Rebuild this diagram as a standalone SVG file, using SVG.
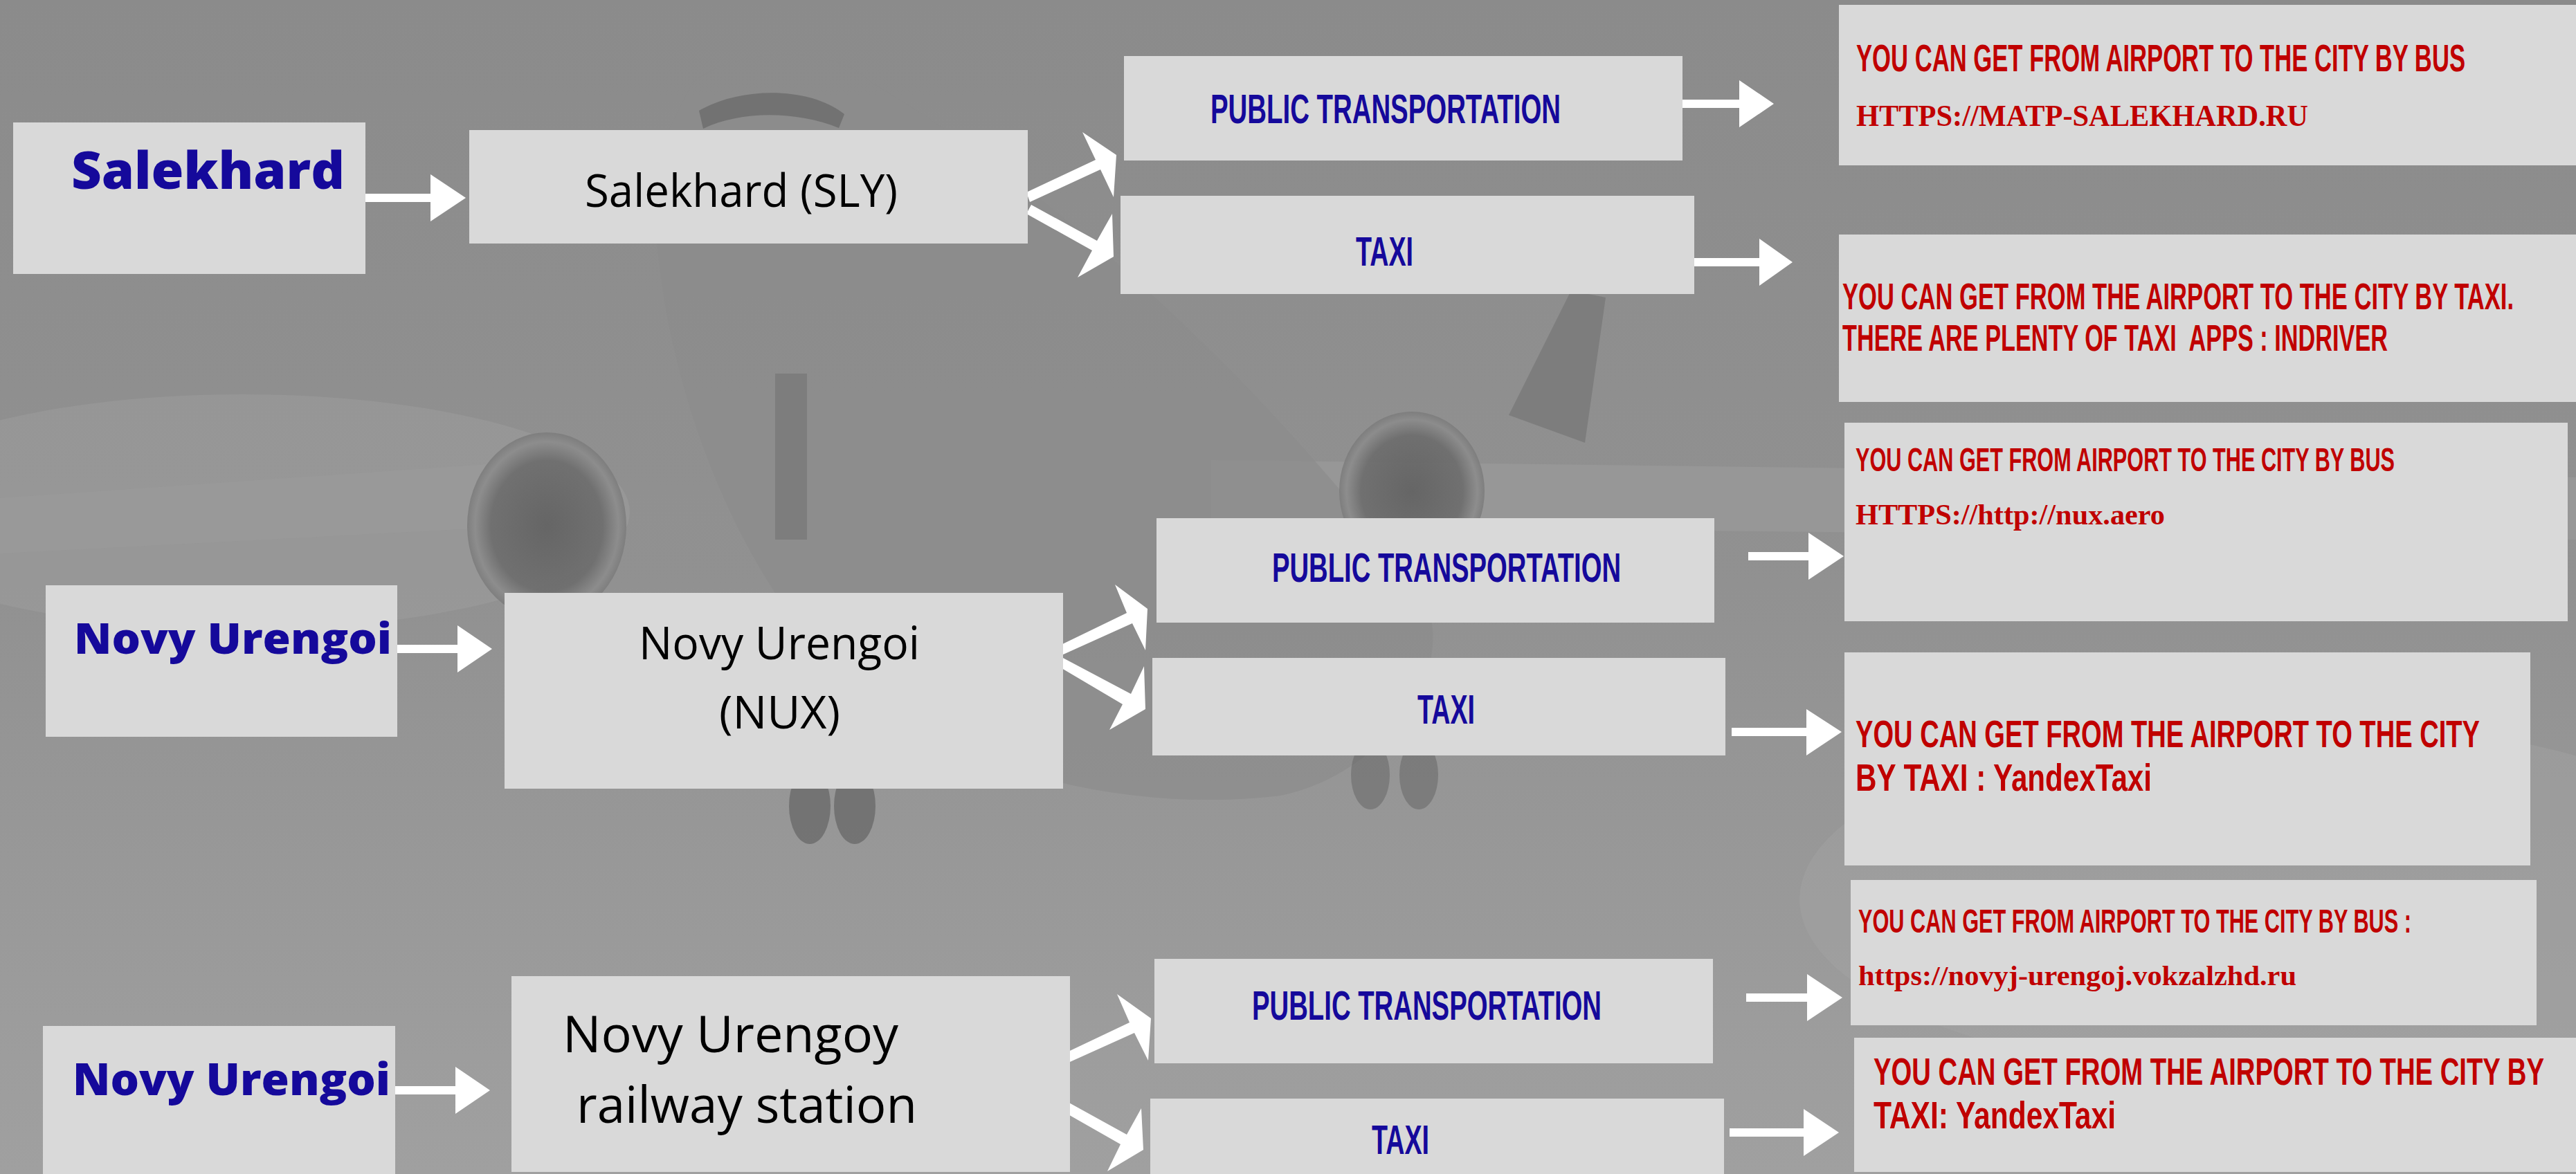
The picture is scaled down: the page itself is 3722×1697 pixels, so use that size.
<svg xmlns="http://www.w3.org/2000/svg" width="3722" height="1697" viewBox="0 0 3722 1697">
<defs>
<linearGradient id="bg" x1="0" y1="0" x2="0" y2="1">
<stop offset="0" stop-color="#8b8b8b"/>
<stop offset="0.5" stop-color="#919191"/>
<stop offset="1" stop-color="#a0a0a0"/>
</linearGradient>
<radialGradient id="eng" cx="0.5" cy="0.5" r="0.5">
<stop offset="0" stop-color="#606060"/>
<stop offset="0.7" stop-color="#6c6c6c"/>
<stop offset="0.9" stop-color="#8c8c8c"/>
<stop offset="1" stop-color="#7c7c7c"/>
</radialGradient>
<style>
.box{fill:#d9d9d9}
.city{font-family:"Open Sans","Noto Sans","DejaVu Sans",sans-serif;font-weight:800;fill:#15099b}
.apt{font-family:"Open Sans","Noto Sans","DejaVu Sans",sans-serif;fill:#000}
.opt{font-family:"Liberation Sans",Arial,sans-serif;font-weight:bold;fill:#15099b}
.info{font-family:"Liberation Sans",Arial,sans-serif;font-weight:bold;fill:#c00000}
.url{font-family:"Liberation Serif","Times New Roman",serif;font-weight:bold;fill:#c00000}
.arrow{fill:#ffffff}
</style>
</defs>

<g id="background">
<rect x="0" y="0" width="3722" height="1697" fill="url(#bg)"/>
<ellipse cx="350" cy="740" rx="560" ry="170" fill="#9e9e9e" opacity="0.5"/>
<ellipse cx="3300" cy="1300" rx="700" ry="260" fill="#a4a4a4" opacity="0.4"/>
<polygon points="0,720 720,670 760,760 0,800" fill="#9a9a9a" opacity="0.8"/>
<polygon points="1750,665 3722,690 3722,780 1750,760" fill="#999999" opacity="0.8"/>
<polygon points="2180,600 2270,420 2320,430 2290,640" fill="#727272" opacity="0.6"/>
<path d="M1000,120 C1060,70 1200,60 1260,120 C1500,260 1800,520 2050,850 C2120,960 2000,1120 1850,1150 C1600,1180 1300,1100 1150,900 C1000,700 930,400 950,220 Z" fill="#8c8c8c" opacity="0.7"/>
<path d="M1010,160 C1070,125 1170,125 1220,165 L1212,185 C1150,160 1070,160 1016,186 Z" fill="#666666" opacity="0.7"/>
<ellipse cx="790" cy="760" rx="115" ry="135" fill="url(#eng)" opacity="0.9"/>
<ellipse cx="2040" cy="710" rx="105" ry="115" fill="url(#eng)" opacity="0.9"/>
<rect x="1120" y="540" width="46" height="240" fill="#6e6e6e" opacity="0.5"/>
<ellipse cx="1170" cy="1165" rx="30" ry="55" fill="#5c5c5c" opacity="0.6"/>
<ellipse cx="1235" cy="1165" rx="30" ry="55" fill="#5c5c5c" opacity="0.6"/>
<ellipse cx="1980" cy="1120" rx="28" ry="50" fill="#626262" opacity="0.5"/>
<ellipse cx="2050" cy="1120" rx="28" ry="50" fill="#626262" opacity="0.5"/>
</g>

<g id="connectors">
<path class="arrow" d="M528,280 H622 V252 L673,286 L622,320 V292 H528 Z"/>
<path class="arrow" d="M1483,278 L1583,231 L1564,191 L1613,224 L1609,285 L1590,245 L1488,292 Z"/>
<path class="arrow" d="M1490,296 L1585,348 L1607,309 L1609,371 L1557,401 L1578,362 L1483,309 Z"/>
<path class="arrow" d="M2425,144 H2513 V116 L2563,150 L2513,184 V156 H2425 Z"/>
<path class="arrow" d="M2448,373 H2542 V345 L2590,379 L2542,413 V385 H2448 Z"/>
<path class="arrow" d="M556,932 H661 V904 L711,938 L661,972 V944 H556 Z"/>
<path class="arrow" d="M1529,934 L1628,886 L1611,845 L1658,880 L1655,940 L1636,901 L1534,947 Z"/>
<path class="arrow" d="M1534,950 L1634,1003 L1653,963 L1655,1025 L1603,1055 L1622,1018 L1529,963 Z"/>
<path class="arrow" d="M2526,798 H2613 V770 L2664,804 L2613,838 V810 H2526 Z"/>
<path class="arrow" d="M2502,1052 H2610 V1025 L2661,1058 L2610,1092 V1064 H2502 Z"/>
<path class="arrow" d="M553,1570 H658 V1542 L708,1576 L658,1610 V1582 H553 Z"/>
<path class="arrow" d="M1533,1525 L1632,1478 L1614,1437 L1663,1472 L1659,1533 L1639,1493 L1537,1539 Z"/>
<path class="arrow" d="M1532,1587 L1628,1640 L1649,1602 L1652,1662 L1600,1693 L1619,1654 L1526,1601 Z"/>
<path class="arrow" d="M2523,1436 H2611 V1408 L2662,1442 L2611,1476 V1448 H2523 Z"/>
<path class="arrow" d="M2499,1631 H2606 V1603 L2657,1637 L2606,1671 V1643 H2499 Z"/>
</g>

<g id="node-salekhard">
<rect class="box" x="19" y="177" width="509" height="219"/>
<text class="city" x="103" y="273" font-size="75" textLength="395" lengthAdjust="spacingAndGlyphs">Salekhard</text>
</g>
<g id="node-sly">
<rect class="box" x="678" y="188" width="807" height="164"/>
<text class="apt" x="845" y="299" font-size="66" textLength="452" lengthAdjust="spacingAndGlyphs">Salekhard (SLY)</text>
</g>
<g id="node-pt1">
<rect class="box" x="1624" y="81" width="807" height="151"/>
<text class="opt" transform="translate(1749,178) scale(1,1.6)" x="0" y="0" font-size="37.5" textLength="506" lengthAdjust="spacingAndGlyphs">PUBLIC TRANSPORTATION</text>
</g>
<g id="node-taxi1">
<rect class="box" x="1619" y="283" width="829" height="142"/>
<text class="opt" transform="translate(1959,384) scale(1,1.6)" x="0" y="0" font-size="37.5" textLength="83" lengthAdjust="spacingAndGlyphs">TAXI</text>
</g>
<g id="node-info1">
<rect class="box" x="2657" y="7" width="1065" height="232"/>
<text class="info" transform="translate(2682,103) scale(1,1.6)" x="0" y="0" font-size="35" textLength="880" lengthAdjust="spacingAndGlyphs">YOU CAN GET FROM AIRPORT TO THE CITY BY BUS</text>
<text class="url" x="2682" y="182" font-size="44" textLength="653" lengthAdjust="spacingAndGlyphs">HTTPS://MATP-SALEKHARD.RU</text>
</g>
<g id="node-info2">
<rect class="box" x="2657" y="339" width="1065" height="242"/>
<text class="info" transform="translate(2662,447) scale(1,1.6)" x="0" y="0" font-size="34" textLength="970" lengthAdjust="spacingAndGlyphs">YOU CAN GET FROM THE AIRPORT TO THE CITY BY TAXI.</text>
<text class="info" transform="translate(2662,507) scale(1,1.6)" x="0" y="0" font-size="34" textLength="788" lengthAdjust="spacingAndGlyphs" xml:space="preserve">THERE ARE PLENTY OF TAXI  APPS : INDRIVER</text>
</g>

<g id="node-novy-urengoi">
<rect class="box" x="66" y="846" width="508" height="219"/>
<text class="city" x="107" y="945" font-size="62" textLength="459" lengthAdjust="spacingAndGlyphs">Novy Urengoi</text>
</g>
<g id="node-nux">
<rect class="box" x="729" y="857" width="807" height="283"/>
<text class="apt" x="923" y="953" font-size="66" textLength="406" lengthAdjust="spacingAndGlyphs">Novy Urengoi</text>
<text class="apt" x="1039" y="1053" font-size="66" textLength="175" lengthAdjust="spacingAndGlyphs">(NUX)</text>
</g>
<g id="node-pt2">
<rect class="box" x="1671" y="749" width="806" height="151"/>
<text class="opt" transform="translate(1838,841) scale(1,1.6)" x="0" y="0" font-size="37.5" textLength="504" lengthAdjust="spacingAndGlyphs">PUBLIC TRANSPORTATION</text>
</g>
<g id="node-taxi2">
<rect class="box" x="1665" y="951" width="828" height="141"/>
<text class="opt" transform="translate(2048,1046) scale(1,1.6)" x="0" y="0" font-size="37.5" textLength="83" lengthAdjust="spacingAndGlyphs">TAXI</text>
</g>
<g id="node-info3">
<rect class="box" x="2665" y="611" width="1045" height="287"/>
<text class="info" transform="translate(2681,681) scale(1,1.6)" x="0" y="0" font-size="29.5" textLength="779" lengthAdjust="spacingAndGlyphs">YOU CAN GET FROM AIRPORT TO THE CITY BY BUS</text>
<text class="url" x="2681" y="758" font-size="42" textLength="447" lengthAdjust="spacingAndGlyphs">HTTPS://http://nux.aero</text>
</g>
<g id="node-info4">
<rect class="box" x="2665" y="943" width="991" height="308"/>
<text class="info" transform="translate(2681,1080) scale(1,1.6)" x="0" y="0" font-size="34.5" textLength="902" lengthAdjust="spacingAndGlyphs">YOU CAN GET FROM THE AIRPORT TO THE CITY</text>
<text class="info" transform="translate(2681,1143) scale(1,1.6)" x="0" y="0" font-size="34.5" textLength="428" lengthAdjust="spacingAndGlyphs">BY TAXI : YandexTaxi</text>
</g>

<g id="node-novy-urengoi-2">
<rect class="box" x="62" y="1483" width="509" height="214"/>
<text class="city" x="105" y="1583" font-size="63" textLength="459" lengthAdjust="spacingAndGlyphs">Novy Urengoi</text>
</g>
<g id="node-railway">
<rect class="box" x="739" y="1411" width="807" height="283"/>
<text class="apt" x="813" y="1521" font-size="74" textLength="485" lengthAdjust="spacingAndGlyphs">Novy Urengoy</text>
<text class="apt" x="833" y="1623" font-size="74" textLength="492" lengthAdjust="spacingAndGlyphs">railway station</text>
</g>
<g id="node-pt3">
<rect class="box" x="1668" y="1386" width="807" height="151"/>
<text class="opt" transform="translate(1809,1474) scale(1,1.6)" x="0" y="0" font-size="37.5" textLength="505" lengthAdjust="spacingAndGlyphs">PUBLIC TRANSPORTATION</text>
</g>
<g id="node-taxi3">
<rect class="box" x="1662" y="1588" width="829" height="109"/>
<text class="opt" transform="translate(1982,1668) scale(1,1.6)" x="0" y="0" font-size="37.5" textLength="83" lengthAdjust="spacingAndGlyphs">TAXI</text>
</g>
<g id="node-info5">
<rect class="box" x="2674" y="1272" width="991" height="210"/>
<text class="info" transform="translate(2685,1348) scale(1,1.6)" x="0" y="0" font-size="30" textLength="799" lengthAdjust="spacingAndGlyphs">YOU CAN GET FROM AIRPORT TO THE CITY BY BUS :</text>
<text class="url" x="2685" y="1424" font-size="40" textLength="633" lengthAdjust="spacingAndGlyphs">https://novyj-urengoj.vokzalzhd.ru</text>
</g>
<g id="node-info6">
<rect class="box" x="2679" y="1500" width="1043" height="194"/>
<text class="info" transform="translate(2707,1568) scale(1,1.6)" x="0" y="0" font-size="35" textLength="969" lengthAdjust="spacingAndGlyphs">YOU CAN GET FROM THE AIRPORT TO THE CITY BY</text>
<text class="info" transform="translate(2707,1631) scale(1,1.6)" x="0" y="0" font-size="35" textLength="350" lengthAdjust="spacingAndGlyphs">TAXI: YandexTaxi</text>
</g>
</svg>
